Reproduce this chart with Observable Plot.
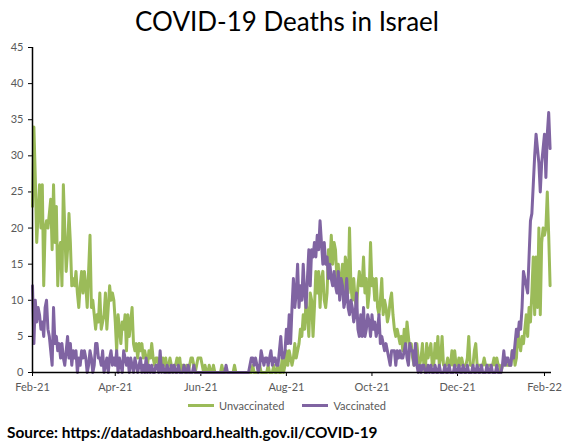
<!DOCTYPE html>
<html>
<head>
<meta charset="utf-8">
<script src="https://cdn.jsdelivr.net/npm/d3@7"></script>
<script src="https://cdn.jsdelivr.net/npm/@observablehq/plot@0.6"></script>
<style>
  html, body { margin: 0; padding: 0; background: #fff; }
  body { width: 574px; height: 446px; position: relative; overflow: hidden; font-family: Lato, "Open Sans", sans-serif; }
  #title { position: absolute; top: 5px; left: 0; width: 574px; text-align: center; font-size: 26px; color: #000; line-height: 32px; }
  #chart { position: absolute; top: 40px; left: 0; }
  #legend { position: absolute; top: 399px; left: 0; width: 574px; display: flex; justify-content: center; align-items: center; font-size: 11px; color: #595959; }
  #legend .item { display: flex; align-items: center; margin: 0 9px; }
  #legend .sw { width: 26px; height: 3px; margin-right: 5px; }
  #source { position: absolute; left: 7px; top: 423px; font-weight: bold; font-size: 15.4px; color: #000; }
</style>
</head>
<body>
<div id="title">COVID-19 Deaths in Israel</div>
<div id="chart"></div>
<div id="legend"></div>
<div id="source">Source: https://datadashboard.health.gov.il/COVID-19</div>
<script>
// ---- Data: daily deaths, one array per month, starting on the 1st of the month ----
const monthStarts = ["2021-02-01","2021-03-01","2021-04-01","2021-05-01","2021-06-01","2021-07-01",
                     "2021-08-01","2021-09-01","2021-10-01","2021-11-01","2021-12-01","2022-01-01","2022-02-01"];

const unvacFeb21 = [23,34,27,18,22,26,20,26,12,20,21,20,22,24,17,26,18,23,12,17,18,12,26,20,14,17,22,18];
const unvacMar21 = [12,13,12,14,11,9,12,14,11,14,12,9,14,19,9,10,8,6,8,7,11,6,7,8,11,6,9,12,10,11,10];
const unvacApr21 = [7,3,8,6,4,7,6,8,3,8,5,7,9,4,3,4,2,4,3,4,2,3,2,1,3,2,4,2,1,2];
const unvacMay21 = [2,1,2,1,2,1,2,0,1,2,1,0,1,1,2,1,2,0,1,1,0,1,0,1,2,2,1,0,1,2,2];
const unvacJun21 = [2,1,0,1,0,0,1,0,0,1,0,0,0,0,0,1,0,0,0,0,0,0,0,0,1,0,0,0,0,0];
const unvacJul21 = [0,0,0,0,0,0,0,1,0,0,0,0,1,0,0,0,0,0,1,0,0,0,1,0,0,1,0,0,2,0,1];
const unvacAug21 = [3,1,3,2,1,2,4,2,3,4,6,5,8,6,10,8,5,11,10,5,9,14,11,14,9,13,14,10,9,11,17];
const unvacSep21 = [15,19,15,18,17,13,15,11,13,15,10,16,15,11,20,12,10,13,10,9,12,14,12,12,16,11,13,9,11,18];
const unvacOct21 = [12,13,10,13,9,8,10,13,8,10,9,7,8,10,11,8,6,5,6,5,4,5,3,6,4,7,5,3,4,2,1];
const unvacNov21 = [3,4,2,1,2,4,1,0,4,2,3,4,1,1,4,2,5,1,2,5,1,1,1,2,1,1,3,1,3,1];
const unvacDec21 = [1,2,1,2,1,1,1,2,5,1,1,1,3,4,1,1,1,1,1,2,1,1,1,1,1,1,2,1,2,1,1];
const unvacJan22 = [0,1,1,2,1,1,1,1,3,3,1,2,6,4,3,5,4,6,8,5,9,7,11,16,8,16,9,20,8,18,20];
const unvacFeb22 = [19,20,25,19,12];

const vacFeb21 = [12,4,10,7,9,8,6,7,5,9,10,6,5,3,1,9,4,5,3,4,2,4,2,1,3,5,2,4];
const vacMar21 = [1,3,2,3,0,2,1,3,2,3,2,0,1,3,2,0,1,4,4,2,2,1,3,0,1,2,0,2,3,1,2];
const vacApr21 = [1,3,0,2,1,0,3,2,1,2,0,2,1,0,2,1,0,1,2,0,1,0,2,0,1,0,1,0,0,1];
const vacMay21 = [1,0,3,0,1,0,0,1,0,0,1,0,1,0,0,1,0,0,0,1,0,0,1,0,0,0,1,0,0,0,0];
const vacJun21 = [0,0,0,0,0,0,0,0,0,0,0,0,0,0,0,0,0,0,1,0,0,0,0,0,0,0,0,0,0,0];
const vacJul21 = [0,0,0,0,0,1,2,2,1,2,1,0,1,3,2,1,2,2,1,2,3,1,2,2,1,1,3,5,2,2,3];
const vacAug21 = [6,4,8,4,9,13,9,11,15,9,12,10,15,11,9,13,17,12,17,16,18,16,19,17,21,18,15,18,15,16,13];
const vacSep21 = [15,13,12,14,12,11,14,10,13,12,9,10,13,9,8,10,9,7,8,11,6,5,8,5,9,5,6,8,7,5];
const vacOct21 = [8,6,7,5,6,8,4,5,4,3,4,3,2,1,3,3,3,1,3,2,3,2,2,3,4,2,1,4,3,3,1];
const vacNov21 = [4,1,0,1,0,1,1,0,0,1,0,1,0,0,1,0,0,1,0,0,0,1,0,0,1,0,0,0,1,0];
const vacDec21 = [0,1,0,0,1,0,0,1,0,0,0,1,0,0,1,0,0,1,0,0,0,1,0,0,1,0,0,0,1,0,0];
const vacJan22 = [0,1,3,1,2,2,1,1,3,2,4,6,5,7,6,9,14,13,12,11,16,21,22,26,30,33,31,29,25,29,31];
const vacFeb22 = [33,27,33,36,31];

const seriesNames = ["Unvaccinated", "Vaccinated"];
const seriesColors = ["#9BBB59", "#8064A2"];
const unvacMonths = [unvacFeb21,unvacMar21,unvacApr21,unvacMay21,unvacJun21,unvacJul21,unvacAug21,unvacSep21,unvacOct21,unvacNov21,unvacDec21,unvacJan22,unvacFeb22];
const vacMonths = [vacFeb21,vacMar21,vacApr21,vacMay21,vacJun21,vacJul21,vacAug21,vacSep21,vacOct21,vacNov21,vacDec21,vacJan22,vacFeb22];

const xTickLabels = ["Feb-21","Apr-21","Jun-21","Aug-21","Oct-21","Dec-21","Feb-22"];
const yTicks = [0,5,10,15,20,25,30,35,40,45];
const xStart = "2021-02-01";
const xEnd = "2022-02-06";

// ---- Build table ----
const rows = [];
[unvacMonths, vacMonths].forEach((months, si) => {
  months.forEach((vals, mi) => {
    const start = new Date(monthStarts[mi] + "T00:00:00Z");
    vals.forEach((v, di) => rows.push({date: d3.utcDay.offset(start, di), value: v, series: seriesNames[si]}));
  });
});

const parseTick = d3.utcParse("%b-%y");
const xTicks = xTickLabels.map(parseTick);
const x0 = new Date(xStart + "T00:00:00Z");

const chart = Plot.plot({
  width: 574,
  height: 358,
  marginTop: 7,
  marginBottom: 26,
  marginLeft: 32,
  marginRight: 23,
  style: {fontFamily: "Lato, 'Open Sans', sans-serif", fontSize: "11px", background: "white", overflow: "visible"},
  x: {type: "utc", domain: [x0, new Date(xEnd + "T00:00:00Z")]},
  y: {domain: [0, 45]},
  color: {domain: seriesNames, range: seriesColors},
  marks: [
    Plot.axisY({ticks: yTicks, tickSize: 4, tickPadding: 5, label: null, stroke: "#000", fill: "#595959"}),
    Plot.axisX({ticks: xTicks, tickFormat: d3.utcFormat("%b-%y"), tickSize: 4, tickPadding: 7, label: null, stroke: "#000", fill: "#595959"}),
    Plot.lineY(rows, {x: "date", y: "value", z: "series", stroke: "series", strokeWidth: 3, strokeLinejoin: "round", strokeLinecap: "round"}),
    Plot.ruleY([0], {stroke: "#000", strokeWidth: 1.5}),
    Plot.ruleX([x0], {stroke: "#000", strokeWidth: 1.5})
  ]
});
document.getElementById("chart").appendChild(chart);

// ---- Legend ----
const legend = document.getElementById("legend");
seriesNames.forEach((name, i) => {
  const item = document.createElement("div");
  item.className = "item";
  const sw = document.createElement("div");
  sw.className = "sw";
  sw.style.background = seriesColors[i];
  const label = document.createElement("span");
  label.textContent = name;
  item.appendChild(sw);
  item.appendChild(label);
  legend.appendChild(item);
});
</script>
</body>
</html>
